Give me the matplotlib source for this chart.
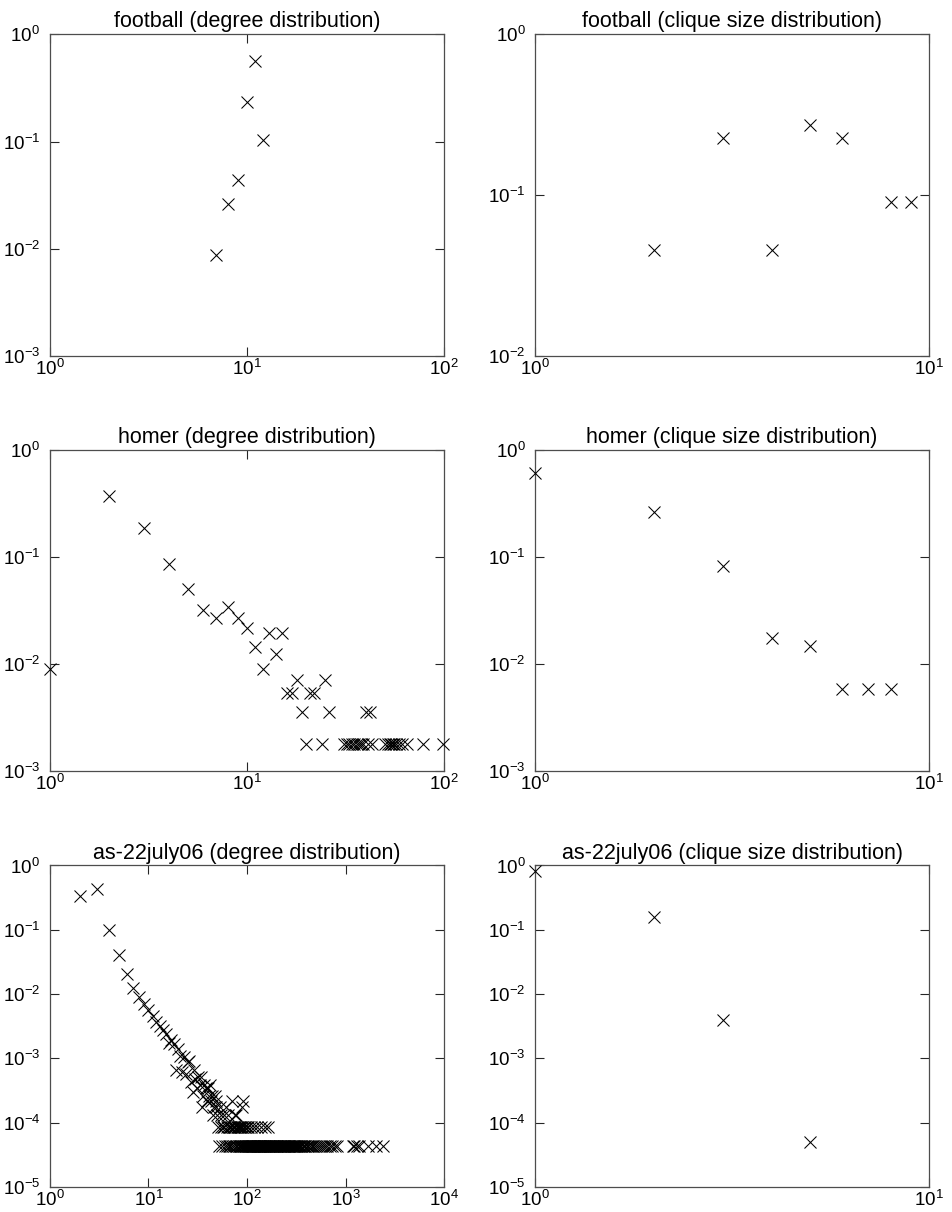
import math
import matplotlib
matplotlib.use("Agg")
import matplotlib.pyplot as plt
from matplotlib.ticker import FixedLocator, FuncFormatter, NullLocator

plt.rcParams["font.family"] = ["Liberation Sans", "DejaVu Sans"]
plt.rcParams["mathtext.fontset"] = "custom"
plt.rcParams["mathtext.rm"] = "Liberation Sans"
plt.rcParams["mathtext.it"] = "Liberation Sans:italic"
plt.rcParams["mathtext.bf"] = "Liberation Sans:bold"

# ---------------- football ----------------
football_degree = [7, 8, 9, 10, 11, 12]
football_degree_p = [0.0087, 0.026, 0.0435, 0.235, 0.565, 0.104]

football_clique = [2, 3, 4, 5, 6, 8, 9]
football_clique_p = [0.0455, 0.227, 0.0455, 0.273, 0.227, 0.0909, 0.0909]

# ---------------- homer ----------------
homer_degree = [1, 2, 3, 4, 5, 6, 7, 8, 9, 10, 11, 12, 13, 14, 15, 16, 17, 18,
                19, 20, 21, 22, 24, 25, 26,
                31, 32, 33, 34, 35, 36, 37, 38, 39, 40, 41, 42, 43,
                50, 52, 53, 54, 55, 56, 57, 59, 61, 65, 78, 99]
homer_degree_p = [0.0089, 0.369, 0.185, 0.0856, 0.0499, 0.0321, 0.0267, 0.0339,
                  0.0267, 0.0214, 0.0143, 0.0089, 0.0196, 0.0125, 0.0196, 0.00535,
                  0.00535, 0.00713, 0.00357, 0.00178, 0.00535, 0.00535, 0.00178,
                  0.00713, 0.00357,
                  0.00178, 0.00178, 0.00178, 0.00178, 0.00178, 0.00178, 0.00178,
                  0.00178, 0.00178, 0.00357, 0.00178, 0.00357, 0.00178,
                  0.00178, 0.00178, 0.00178, 0.00178, 0.00178, 0.00178, 0.00178,
                  0.00178, 0.00178, 0.00178, 0.00178, 0.00178]

homer_clique = [1, 2, 3, 4, 5, 6, 7, 8]
homer_clique_p = [0.605, 0.263, 0.0816, 0.0174, 0.0146, 0.0058, 0.0058, 0.0058]

# ---------------- as-22july06 ----------------
as_nodes = 22963

# degree -> number of nodes with that degree
as_degree = [2, 3, 4, 5, 6, 7, 8, 9, 10, 11, 12, 13, 14, 15, 16, 17, 18, 19,
             20, 21, 22, 23, 24, 25, 26, 27, 28, 29, 30, 31, 32, 33, 34, 35,
             36, 37, 38, 39,
             40, 41, 42, 43, 44, 45, 46, 47, 48, 49, 50, 53, 55, 58, 61, 64,
             70, 75, 78, 88, 92]
as_count = [7739, 9828, 2250, 921, 466, 290, 205, 160, 128, 103, 86, 74, 63,
            55, 40, 45, 38, 15, 32, 25, 14, 24, 13, 20, 21, 10, 7, 15, 11, 8,
            12, 9, 12, 4, 6, 9, 8, 5,
            8, 6, 9, 5, 6, 3, 4, 6, 4, 5, 3, 4, 3, 3, 4, 3,
            5, 3, 3, 4, 5]

# degrees held by exactly two nodes
as_degree_two = [51, 54, 57, 59, 62, 65, 67, 69, 72, 74, 76, 79, 81, 83, 85,
                 87, 90, 94, 96, 99, 103, 109, 117, 127, 138, 151, 163]

# degrees held by a single node
as_degree_one = [52, 56, 60, 63, 66, 68, 71, 73, 77, 80, 82, 84, 86, 89, 91,
                 93, 95, 97, 98,
                 101, 102, 104, 105, 107, 108, 110, 112, 113, 115, 116, 118,
                 119, 121, 123, 124, 126, 128, 130, 131, 133, 135, 137, 139,
                 141, 143, 146, 148, 150, 152, 155, 157, 159, 162, 164, 167,
                 170, 172, 175, 178, 181, 184, 187, 190, 193, 196, 199,
                 203, 207, 211, 214, 218, 222, 226, 230, 235, 239, 244, 248,
                 253, 258, 263, 268, 274, 279, 285, 291, 297, 303, 310, 316,
                 323, 330, 338, 345,
                 355, 367, 380, 392, 405, 420, 438, 455, 470, 490, 512, 535,
                 560, 590, 620, 655, 690, 730, 775, 815,
                 1180, 1230, 1300, 1360, 1700, 2040, 2390]

as_clique = [1, 2, 3, 5]
as_clique_p = [0.816, 0.157, 0.00394, 5.08e-5]

as_deg_x = as_degree + as_degree_two + as_degree_one
as_deg_y = ([c / as_nodes for c in as_count]
            + [2 / as_nodes] * len(as_degree_two)
            + [1 / as_nodes] * len(as_degree_one))

fig = plt.figure(figsize=(9.52, 12.12), dpi=100)

W = 0.4139
H = 0.2653
col_x = [0.0525, 0.562]
row_y = [0.7063, 0.3638, 0.0206]


def decade_label(v, pos):
    e = int(round(math.log10(v)))
    return r"$\mathdefault{10^{%d}}$" % e


def panel(col, row, x, y, title, xdec, ydec):
    ax = fig.add_axes([col_x[col], row_y[row], W, H])
    ax.plot(x, y, linestyle="none", marker="x", ms=8.8, mew=0.75,
            color="black", clip_on=False, zorder=3)
    ax.set_xscale("log")
    ax.set_yscale("log")
    ax.set_xlim(10.0 ** xdec[0], 10.0 ** xdec[1])
    ax.set_ylim(10.0 ** ydec[0], 10.0 ** ydec[1])
    ax.xaxis.set_major_locator(FixedLocator([10.0 ** e for e in range(xdec[0], xdec[1] + 1)]))
    ax.yaxis.set_major_locator(FixedLocator([10.0 ** e for e in range(ydec[0], ydec[1] + 1)]))
    ax.xaxis.set_minor_locator(NullLocator())
    ax.yaxis.set_minor_locator(NullLocator())
    ax.xaxis.set_major_formatter(FuncFormatter(decade_label))
    ax.yaxis.set_major_formatter(FuncFormatter(decade_label))
    ax.tick_params(which="major", direction="in", length=6.5, width=0.8,
                   top=True, right=True, labelsize=13.5, color="0.15")
    ax.tick_params(axis="x", pad=2)
    ax.tick_params(axis="y", pad=7)
    for s in ax.spines.values():
        s.set_color("0.3")
        s.set_linewidth(0.9)
    ax.set_title(title, fontsize=15.5, pad=5)
    return ax


panel(0, 0, football_degree, football_degree_p,
      "football (degree distribution)", (0, 2), (-3, 0))
panel(1, 0, football_clique, football_clique_p,
      "football (clique size distribution)", (0, 1), (-2, 0))
panel(0, 1, homer_degree, homer_degree_p,
      "homer (degree distribution)", (0, 2), (-3, 0))
panel(1, 1, homer_clique, homer_clique_p,
      "homer (clique size distribution)", (0, 1), (-3, 0))
panel(0, 2, as_deg_x, as_deg_y,
      "as-22july06 (degree distribution)", (0, 4), (-5, 0))
panel(1, 2, as_clique, as_clique_p,
      "as-22july06 (clique size distribution)", (0, 1), (-5, 0))

fig.savefig("out.png", dpi=100)
